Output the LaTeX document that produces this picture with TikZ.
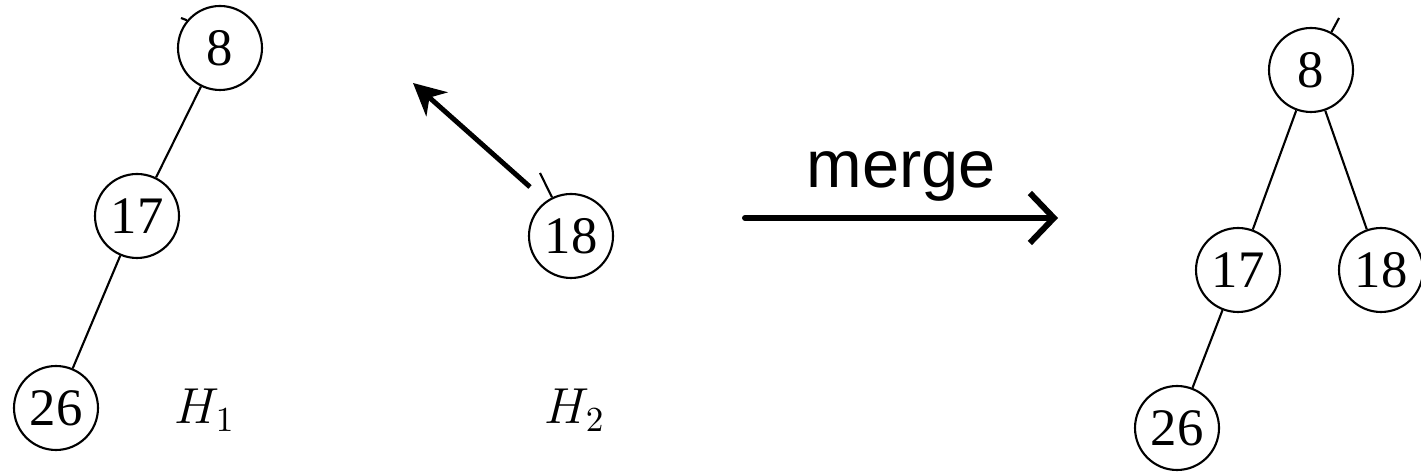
\documentclass[tikz,border=0pt]{standalone}
\usepackage{fontspec}
\setmainfont{Liberation Serif}
\newfontfamily\labelfont{Liberation Sans}
\usetikzlibrary{arrows.meta,positioning,calc}

\begin{document}
\begin{tikzpicture}

 \tikzset{
   key/.style={circle, draw=black, line width=0.6pt, minimum size=8.4mm, inner sep=0pt, font=\fontsize{15}{15}\selectfont},
   edge/.style={line width=0.6pt},
   heapname/.style={font=\fontsize{14}{14}\selectfont},
   move/.style={-{Stealth[length=3.2mm, width=3.2mm, inset=1mm]}, line width=1.4pt},
   mergearrow/.style={-{Straight Barb[length=2.4mm, width=5mm]}, line width=1.7pt, line cap=round}
 }

 % frame
 \useasboundingbox (0,0) rectangle (14.21,4.74);

 % Heap H1
 \node[key] (l8) at (2.20, 4.26) {8};
 \node[key] (l17) at (1.37, 2.58) {17};
 \node[key] (l26) at (0.56, 0.66) {26};
 \node[heapname] (h1) at (2.05, 0.64) {$H_1$};

 % Heap H2
 \node[key] (l18) at (5.71, 2.38) {18};
 \node[heapname] (h2) at (5.75, 0.64) {$H_2$};

 % Merged heap
 \node[key] (r8) at (13.11, 4.04) {8};
 \node[key] (r17) at (12.38, 2.04) {17};
 \node[key] (r18) at (13.81, 2.04) {18};
 \node[key] (r26) at (11.77, 0.46) {26};

 % stubs and arrow ends
 \coordinate (s8) at (1.81, 4.56);
 \coordinate (s18) at (5.40, 3.01);
 \coordinate (sr8) at (13.39, 4.56);
 \coordinate (movefrom) at (5.30, 2.87);
 \coordinate (moveto) at (4.13, 3.91);
 \coordinate (mergefrom) at (7.45, 2.56);
 \coordinate (mergeto) at (10.58, 2.56);

 % Edges
 \draw[edge] (l8) -- (l17);
 \draw[edge] (l17) -- (l26);
 \draw[edge] (l8.140) -- (s8);
 \draw[edge] (l18) -- (s18);
 \draw[edge] (r8) -- (r17);
 \draw[edge] (r8) -- (r18);
 \draw[edge] (r17) -- (r26);
 \draw[edge] (r8) -- (sr8);

 % Arrows
 \draw[move] (movefrom) -- (moveto);
 \draw[mergearrow] (mergefrom) -- (mergeto)
   node[midway, above=4pt, inner sep=0pt, font=\labelfont\fontsize{19}{19}\selectfont] (mergelabel) {merge};

\end{tikzpicture}
\end{document}
